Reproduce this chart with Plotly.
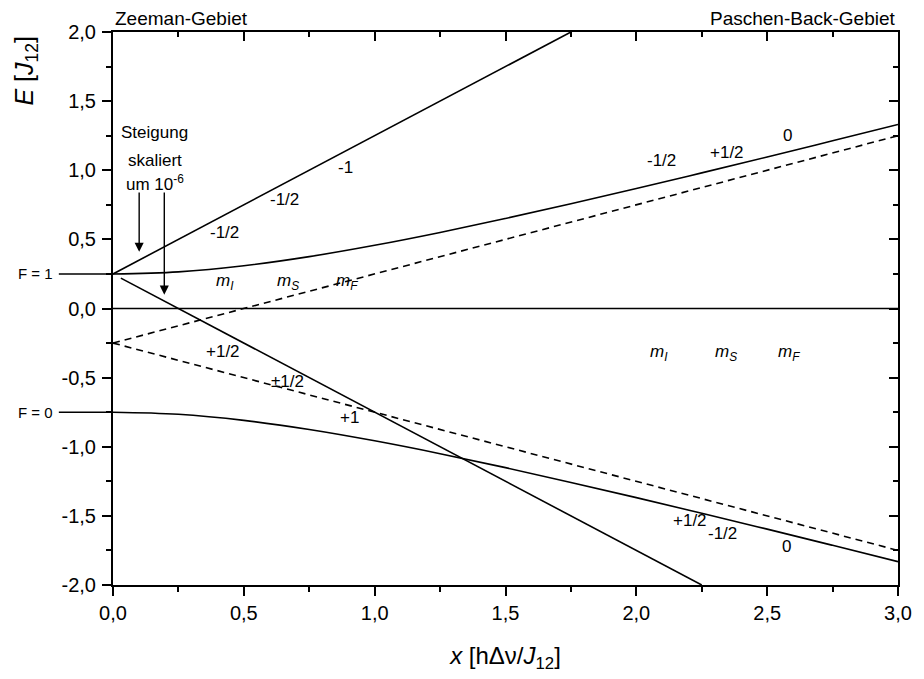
import plotly.graph_objects as go

# ---- data ----
x_curve = [0.0, 0.25, 0.5, 0.75, 1.0, 1.25, 1.5, 1.75, 2.0, 2.25, 2.5, 2.75, 3.0]
E_upper_curve = [0.25, 0.265, 0.309, 0.375, 0.457, 0.550, 0.651, 0.758, 0.868, 0.981, 1.096, 1.213, 1.331]
E_lower_curve = [-0.75, -0.765, -0.809, -0.875, -0.957, -1.050, -1.151, -1.258, -1.368, -1.481, -1.596, -1.713, -1.831]

x_up_line = [0.0, 1.75]
E_up_line = [0.25, 2.0]
x_down_line = [0.03, 2.25]
E_down_line = [0.22, -2.0]

x_dash = [0.0, 3.0]
E_dash_up = [-0.25, 1.25]
E_dash_down = [-0.25, -1.75]

x_zero = [0.0, 3.0]
E_zero = [0.0, 0.0]

F_levels = [0.25, -0.75]
F_texts = ["F = 1", "F = 0"]

# quantum-number labels (x, E, text)
lbl_x = [0.888, 0.657, 0.427, 0.42, 0.665, 0.903, 2.097, 2.346, 2.577, 2.206, 2.331, 2.573]
lbl_E = [1.023, 0.785, 0.553, -0.31, -0.53, -0.785, 1.074, 1.13, 1.254, -1.53, -1.63, -1.725]
lbl_t = ["-1", "-1/2", "-1/2", "+1/2", "±1/2", "+1", "-1/2", "+1/2", "0", "+1/2", "-1/2", "0"]

m_x_left = [0.427, 0.669, 0.895]
m_E_left = 0.19
m_x_right = [2.085, 2.342, 2.584]
m_E_right = -0.32
m_texts = ["<i>m</i><sub><i>I</i></sub>", "<i>m</i><sub><i>S</i></sub>", "<i>m</i><sub><i>F</i></sub>"]

arrow_x = [0.10, 0.196]
arrow_E_start = [0.85, 0.85]
arrow_E_end = [0.41, 0.10]

note_x = 0.159
note_E = [1.276, 1.073, 0.907]
note_t = ["Steigung", "skaliert", "um 10<sup>-6</sup>"]

x_range = [0.0, 3.0]
E_range = [-2.0, 2.0]
x_ticks = [0.0, 0.5, 1.0, 1.5, 2.0, 2.5, 3.0]
x_ticklabels = ["0,0", "0,5", "1,0", "1,5", "2,0", "2,5", "3,0"]
E_ticks = [-2.0, -1.5, -1.0, -0.5, 0.0, 0.5, 1.0, 1.5, 2.0]
E_ticklabels = ["-2,0", "-1,5", "-1,0", "-0,5", "0,0", "0,5", "1,0", "1,5", "2,0"]

FONT = "Liberation Sans, Arial, sans-serif"
BLACK = "#000000"
LBL = 17

fig = go.Figure()

def line(x, y, dash="solid", shape="linear"):
    fig.add_trace(go.Scatter(x=x, y=y, mode="lines", line=dict(color=BLACK, width=1.6, dash=dash, shape=shape),
                             showlegend=False, hoverinfo="skip", cliponaxis=True))

line(x_zero, E_zero)
line(x_curve, E_upper_curve, shape="spline")
line(x_curve, E_lower_curve, shape="spline")
line(x_up_line, E_up_line)
line(x_down_line, E_down_line)
line(x_dash, E_dash_up, dash="7px,5px")
line(x_dash, E_dash_down, dash="7px,5px")

# invisible trace on the mirrored axes
fig.add_trace(go.Scatter(x=x_range, y=E_range, xaxis="x2", yaxis="y2", mode="markers",
                         marker=dict(opacity=0), showlegend=False, hoverinfo="skip"))

annotations = []
for x, y, t in zip(lbl_x, lbl_E, lbl_t):
    annotations.append(dict(x=x, y=y, text=t, showarrow=False, font=dict(size=LBL, color=BLACK, family=FONT)))
for x, t in zip(m_x_left, m_texts):
    annotations.append(dict(x=x, y=m_E_left, text=t, showarrow=False, font=dict(size=LBL, color=BLACK, family=FONT)))
for x, t in zip(m_x_right, m_texts):
    annotations.append(dict(x=x, y=m_E_right, text=t, showarrow=False, font=dict(size=LBL, color=BLACK, family=FONT)))
for y, t in zip(note_E, note_t):
    annotations.append(dict(x=note_x, y=y, text=t, showarrow=False, font=dict(size=LBL, color=BLACK, family=FONT)))
for x, y0, y1 in zip(arrow_x, arrow_E_start, arrow_E_end):
    annotations.append(dict(x=x, y=y1, ax=x, ay=y0, xref="x", yref="y", axref="x", ayref="y", text="",
                            showarrow=True, arrowhead=2, arrowsize=1.3, arrowwidth=1.4, arrowcolor=BLACK))
for y, t in zip(F_levels, F_texts):
    annotations.append(dict(x=-0.074, y=y, xref="paper", yref="y", text=t, showarrow=False, xanchor="right",
                            font=dict(size=15, color=BLACK, family=FONT)))
annotations.append(dict(x=0, y=1.0, xref="paper", yref="paper", yanchor="bottom", xanchor="left", yshift=1,
                        text="Zeeman-Gebiet", showarrow=False, font=dict(size=19, color=BLACK, family=FONT)))
annotations.append(dict(x=1, y=1.0, xref="paper", yref="paper", yanchor="bottom", xanchor="right", yshift=1,
                        text="Paschen-Back-Gebiet", showarrow=False, font=dict(size=19, color=BLACK, family=FONT)))
# y axis title placed near the top as in the reference
annotations.append(dict(x=-0.111, y=0.93, xref="paper", yref="paper", xanchor="center", yanchor="middle",
                        text="<i>E</i> [<i>J</i><sub>12</sub>]", textangle=-90, showarrow=False,
                        font=dict(size=25, color=BLACK, family=FONT)))

shapes = []
for y in F_levels:
    shapes.append(dict(type="line", xref="paper", yref="y", x0=-0.069, x1=0, y0=y, y1=y,
                       line=dict(color=BLACK, width=1.6)))

axis_common = dict(showgrid=False, zeroline=False, showline=True, linecolor=BLACK, linewidth=2,
                   tickcolor=BLACK, tickwidth=1.5,
                   tickfont=dict(size=20, color=BLACK, family=FONT))

fig.update_layout(
    width=924, height=679,
    margin=dict(l=113, r=17, t=32, b=94),
    paper_bgcolor="white", plot_bgcolor="white",
    font=dict(family=FONT, color=BLACK),
    xaxis=dict(**axis_common, range=x_range, tickvals=x_ticks, ticktext=x_ticklabels,
               ticks="outside", ticklen=9,
               minor=dict(dtick=0.25, ticks="outside", ticklen=5, tickcolor=BLACK, tickwidth=1.5),
               title=dict(text="<i>x</i> [hΔν/<i>J</i><sub>12</sub>]", font=dict(size=24, color=BLACK, family=FONT),
                          standoff=24)),
    yaxis=dict(**axis_common, range=E_range, tickvals=E_ticks, ticktext=E_ticklabels,
               ticks="outside", ticklen=9, ticklabelstandoff=2,
               minor=dict(dtick=0.25, ticks="outside", ticklen=5, tickcolor=BLACK, tickwidth=1.5)),
    xaxis2=dict(**axis_common, range=x_range, tickvals=x_ticks, overlaying="x", side="top", anchor="y",
                ticks="inside", ticklen=9, showticklabels=False,
                minor=dict(dtick=0.25, ticks="inside", ticklen=5, tickcolor=BLACK, tickwidth=1.5)),
    yaxis2=dict(**axis_common, range=E_range, tickvals=E_ticks, overlaying="y", side="right", anchor="x",
                ticks="inside", ticklen=9, showticklabels=False,
                minor=dict(dtick=0.25, ticks="inside", ticklen=5, tickcolor=BLACK, tickwidth=1.5)),
    annotations=annotations,
    shapes=shapes,
)

fig.write_html("out.html")
